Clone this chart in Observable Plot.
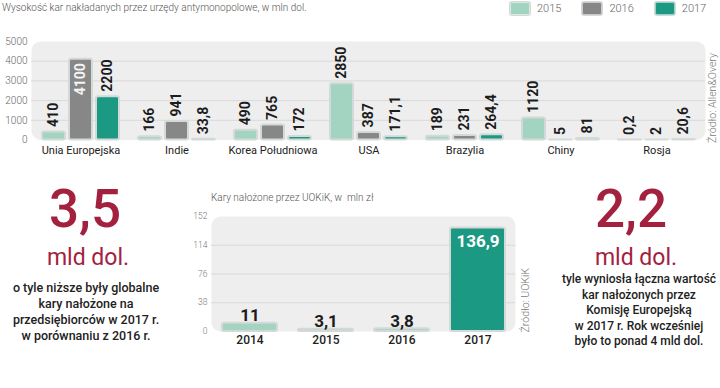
<!DOCTYPE html>
<html>
<head>
<meta charset="utf-8">
<script src="https://cdn.jsdelivr.net/npm/d3@7"></script>
<script src="https://cdn.jsdelivr.net/npm/@observablehq/plot@0.6"></script>
<style>
  html, body { margin: 0; padding: 0; background: #fff; }
  #root { position: relative; width: 720px; height: 388px; overflow: hidden; font-family: Roboto, "Noto Sans", sans-serif; color: #222; }
  .abs { position: absolute; }
  .title { font-size: 10px; font-weight: 300; color: #555; white-space: nowrap; line-height: 12px; }
  .legend { display: flex; gap: 21px; font-size: 11px; font-weight: 300; color: #666; line-height: 13px; }
  .legend .item { display: flex; align-items: center; }
  .legend .sw { width: 20px; height: 13px; border-radius: 2px; box-sizing: border-box; border: 1.5px solid rgba(255,255,255,0.55); box-shadow: 0 0 0 1px #d8d8d8; margin-right: 7px; }
  .source { writing-mode: vertical-rl; transform: rotate(180deg); font-size: 10.5px; font-weight: 300; color: #777; white-space: nowrap; line-height: 11px; }
  .big { color: #a3213f; text-align: center; line-height: 1; white-space: nowrap; }
  .big.num { font-size: 53px; font-weight: 500; }
  .big.unit { font-size: 23px; font-weight: 400; }
  .para { text-align: center; font-size: 12.5px; font-weight: 500; color: #222; white-space: nowrap; }
  #topbg g[aria-label^="y-axis"] text { font-size: 10px; fill: #666; font-weight: 300; }
  #topfg g[aria-label^="fx-axis"] text { font-size: 11px; fill: #222; font-weight: 400; }
  #bottom g[aria-label^="y-axis"] text { font-size: 8.5px; fill: #777; font-weight: 300; }
  #bottom g[aria-label^="x-axis"] text { font-size: 12px; fill: #222; font-weight: 500; }
</style>
</head>
<body>
<div id="root">
  <div class="abs title" style="left:2px; top:2px;">Wysokość kar nakładanych przez urzędy antymonopolowe, w mln dol.</div>
  <div class="abs legend" id="legend" style="left:510px; top:2px;"></div>
  <div class="abs" id="topbg" style="left:0; top:30px;"></div>
  <div class="abs" id="topfg" style="left:0; top:30px;"></div>
  <div class="abs source" style="left:707px; top:53px;">Źródło: Allen&amp;Overy</div>

  <div class="abs title" style="left:211px; top:192px;">Kary nałożone przez UOKiK, w&nbsp; mln zł</div>
  <div class="abs" id="bottom" style="left:0; top:205px;"></div>
  <div class="abs source" style="left:520px; top:268px;">Źródło: UOKiK</div>

  <div class="abs big num" style="left:0; width:170px; top:183px;">3,5</div>
  <div class="abs big unit" style="left:0; width:176px; top:246px;">mld dol.</div>
  <div class="abs para" style="left:0; width:172px; top:280px; line-height:16px;">o tyle niższe były globalne<br>kary nałożone na<br>przedsiębiorców w 2017 r.<br>w porównaniu z 2016 r.</div>

  <div class="abs big num" style="left:546px; width:170px; top:183px;">2,2</div>
  <div class="abs big unit" style="left:551px; width:170px; top:246px;">mld dol.</div>
  <div class="abs para" style="left:549px; width:180px; top:272px; line-height:15.6px; font-size:12px;">tyle wyniosła łączna wartość<br>kar nałożonych przez<br>Komisję Europejską<br>w 2017 r. Rok wcześniej<br>było to ponad 4 mld dol.</div>
</div>
<script>
// ---- data ----
const countries = ["Unia Europejska", "Indie", "Korea Południowa", "USA", "Brazylia", "Chiny", "Rosja"];
const years = ["2015", "2016", "2017"];
const fines2015 = [410, 166, 490, 2850, 189, 1120, 0.2];
const fines2016 = [4100, 941, 765, 387, 231, 5, 2];
const fines2017 = [2200, 33.8, 172, 171.1, 264.4, 81, 20.6];
const topTicks = [0, 1000, 2000, 3000, 4000, 5000];

const uokikYears = ["2014", "2015", "2016", "2017"];
const uokikValues = [11, 3.1, 3.8, 136.9];
const uokikTicks = [0, 38, 76, 114, 152];

// ---- colours ----
const mint = "#a3d3c1", grey = "#878787", teal = "#1b9983";
const yearColors = [mint, grey, teal];

const series = [fines2015, fines2016, fines2017];
const topData = countries.flatMap((c, i) => years.map((y, j) => ({country: c, year: y, value: series[j][i]})));
const uokikData = uokikYears.map((y, i) => ({year: y, value: uokikValues[i]}));
const fmt = v => String(v).replace(".", ",");
const baseStyle = {background: "transparent", fontFamily: "Roboto, 'Noto Sans', sans-serif", overflow: "visible"};

// legend
const legend = document.getElementById("legend");
years.forEach((y, i) => {
  const it = document.createElement("div");
  it.className = "item";
  it.innerHTML = `<span class="sw" style="background:${yearColors[i]}"></span><span>${y}</span>`;
  legend.appendChild(it);
});

const topDims = {width: 720, height: 135, marginTop: 11, marginBottom: 25.5, marginLeft: 31, marginRight: 15};
const topMax = d3.max(topData, d => d.value);

// background panel + y axis + grid
document.getElementById("topbg").appendChild(Plot.plot({
  ...topDims,
  style: baseStyle,
  x: {axis: null},
  y: {domain: [0, 5000], ticks: topTicks, tickSize: 0, tickPadding: 4, tickFormat: d => String(d), label: null},
  marks: [
    Plot.frame({fill: "#eeeeee", stroke: "none", rx: 9}),
    Plot.ruleY(topTicks.filter(t => t > 0 && t < 5000), {stroke: "#d9d9d9"})
  ]
}));

// bars
document.getElementById("topfg").appendChild(Plot.plot({
  ...topDims,
  style: baseStyle,
  facet: {data: topData, x: "country"},
  fx: {domain: countries, paddingInner: 0.2, paddingOuter: 0.1, axis: "bottom", tickSize: 0, tickPadding: 6, label: null},
  x: {domain: years, axis: null, paddingInner: 0.15, paddingOuter: 0},
  y: {domain: [0, 5000], axis: null},
  color: {domain: years, range: yearColors},
  marks: [
    Plot.barY(topData, {x: "year", y: "value", fill: "year", stroke: "#d3d9d6", strokeWidth: 2, rx: 2}),
    Plot.text(topData, {filter: d => d.value < topMax * 0.9, x: "year", y: "value", text: d => fmt(d.value),
      rotate: -90, textAnchor: "start", dy: -5, fontSize: 14, fontWeight: "bold", fill: "#1c1c1c"}),
    Plot.text(topData, {filter: d => d.value >= topMax * 0.9, x: "year", y: "value", text: d => fmt(d.value),
      rotate: -90, textAnchor: "end", dy: 4, fontSize: 14, fontWeight: "bold", fill: "#f4f4f4"})
  ]
}));

// UOKiK chart
const uMax = d3.max(uokikValues);
document.getElementById("bottom").appendChild(Plot.plot({
  width: 720, height: 150, marginTop: 11, marginBottom: 24, marginLeft: 211, marginRight: 205,
  style: baseStyle,
  x: {domain: uokikYears, paddingInner: 0.28, paddingOuter: 0.14, tickSize: 0, tickPadding: 4, label: null},
  y: {domain: [0, 152], ticks: uokikTicks, tickSize: 0, tickPadding: 4, label: null},
  color: {domain: uokikYears, range: [mint, mint, mint, teal]},
  marks: [
    Plot.frame({fill: "#eeeeee", stroke: "none", rx: 9}),
    Plot.ruleY(uokikTicks.filter(t => t > 0 && t < 152), {stroke: "#d9d9d9"}),
    Plot.barY(uokikData, {x: "year", y: "value", fill: "year", stroke: "#d3d9d6", strokeWidth: 2, rx: 2}),
    Plot.text(uokikData, {filter: d => d.value < uMax * 0.9, x: "year", y: "value", text: d => fmt(d.value),
      lineAnchor: "bottom", dy: -2, fontSize: 17, fontWeight: "bold", fill: "#1c1c1c"}),
    Plot.text(uokikData, {filter: d => d.value >= uMax * 0.9, x: "year", y: "value", text: d => fmt(d.value),
      lineAnchor: "top", dy: 7, fontSize: 17, fontWeight: "bold", fill: "#ffffff"})
  ]
}));
</script>
</body>
</html>
